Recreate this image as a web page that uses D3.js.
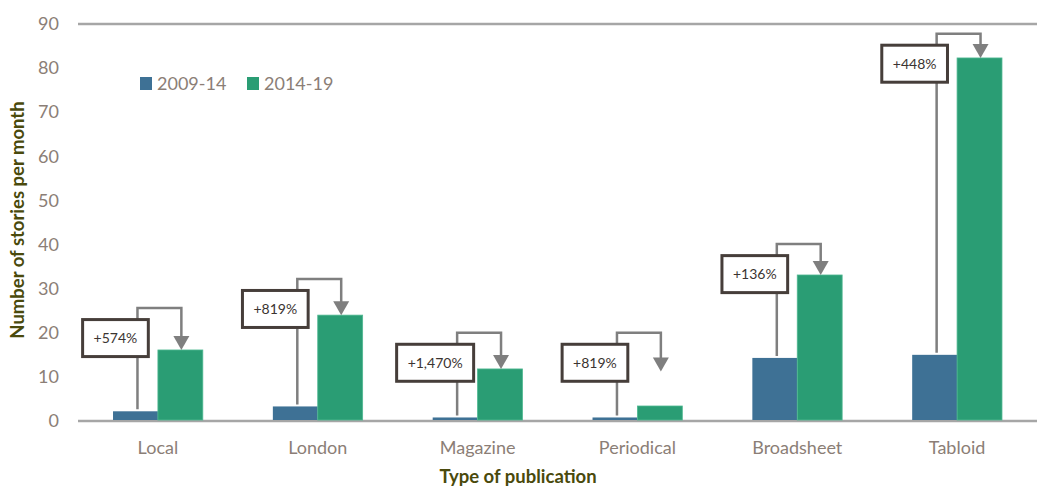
<!DOCTYPE html>
<html>
<head>
<meta charset="utf-8">
<script src="https://cdn.jsdelivr.net/npm/d3@7"></script>
<style>
  body { margin: 0; background: #fff; }
  svg { display: block; font-family: Lato, "Open Sans", sans-serif; }
</style>
</head>
<body>
<svg id="chart" width="1037" height="487"></svg>
<script>
// data
var categories = ["Local", "London", "Magazine", "Periodical", "Broadsheet", "Tabloid"];
var seriesNames = ["2009-14", "2014-19"];
var early = [2.2, 3.3, 0.8, 0.8, 14.3, 15.0];
var late = [16.1, 24.0, 11.8, 3.4, 33.1, 82.3];
var pctLabels = ["+574%", "+819%", "+1,470%", "+819%", "+136%", "+448%"];
// level of the bracket and where each arrow stops, in chart units
var bracketTop = [25.6, 32.2, 20.0, 20.0, 40.1, 87.8];
var arrowEnd = [16.1, 24.0, 11.8, 11.2, 33.1, 82.3];
var yTicks = [0, 10, 20, 30, 40, 50, 60, 70, 80, 90];

var colors = { "2009-14": "#3e7195", "2014-19": "#2a9d74" };
var textGrey = "#8b7e76";
var titleColor = "#4a4a0c";

var svg = d3.select("#chart");
var margin = { left: 78, right: 0, top: 24, bottom: 66 };
var width = 1037 - margin.left - margin.right;
var height = 487 - margin.top - margin.bottom;

var g = svg.append("g").attr("transform", "translate(" + margin.left + "," + margin.top + ")");

var x = d3.scaleBand().domain(categories).range([0, width]);
var x1 = d3.scaleBand().domain(seriesNames).range([0, x.bandwidth()]).paddingOuter(0.78);
var y = d3.scaleLinear().domain([0, 90]).range([height, 0]);

var rows = categories.map(function (c, i) {
    return { cat: c, i: i, values: [{ s: "2009-14", v: early[i] }, { s: "2014-19", v: late[i] }] };
});

// top rule and baseline
[0, 90].forEach(function (v) {
    g.append("line")
        .attr("x1", 0).attr("x2", width)
        .attr("y1", y(v)).attr("y2", y(v))
        .attr("stroke", "#a6a6a6").attr("stroke-width", 2.5);
});

// y axis labels
var yAxis = g.append("g")
    .call(d3.axisLeft(y).tickValues(yTicks).tickSize(0).tickPadding(19));
yAxis.select(".domain").remove();
yAxis.selectAll("text")
    .attr("fill", textGrey).style("font-size", "18px").style("font-family", "Lato, sans-serif");

// x axis labels
var xAxis = g.append("g").attr("transform", "translate(0," + height + ")")
    .call(d3.axisBottom(x).tickSize(0).tickPadding(20));
xAxis.select(".domain").remove();
xAxis.selectAll("text")
    .attr("fill", textGrey).style("font-size", "18px").style("font-family", "Lato, sans-serif");

// bars
var groups = g.selectAll(".grp").data(rows).enter().append("g")
    .attr("transform", function (d) { return "translate(" + x(d.cat) + ",0)"; });
groups.selectAll("rect").data(function (d) { return d.values; }).enter().append("rect")
    .attr("x", function (d) { return x1(d.s); })
    .attr("width", x1.bandwidth())
    .attr("y", function (d) { return y(d.v); })
    .attr("height", function (d) { return y(0) - y(d.v) - 1; })
    .attr("fill", function (d) { return colors[d.s]; })
    .attr("stroke", function (d) { return d.s == "2014-19" ? "#4fb891" : "none"; })
    .attr("stroke-width", 0.8);

// change brackets
var arrowColor = "#7f7f7f";
rows.forEach(function (d) {
    var i = d.i;
    var lx = x(d.cat) + x1("2009-14") + x1.bandwidth() / 2 + 2;
    var ax = x(d.cat) + x1("2014-19") + x1.bandwidth() / 2 + 1;
    var yb = y(early[i]) - 2;
    var yt = y(bracketTop[i]);
    var ye = y(arrowEnd[i]);
    var head = 14;

    g.append("path")
        .attr("d", "M" + lx + "," + yb + "V" + yt + "H" + ax + "V" + (ye - head + 1))
        .attr("fill", "none").attr("stroke", arrowColor).attr("stroke-width", 2.5);
    g.append("path")
        .attr("d", "M" + (ax - 8) + "," + (ye - head) + "L" + (ax + 8) + "," + (ye - head) + "L" + ax + "," + ye + "Z")
        .attr("fill", arrowColor);

    var box = g.append("g").attr("transform", "translate(" + (lx - 22) + "," + (yt + 30) + ")");
    var rect = box.append("rect").attr("fill", "#fff").attr("stroke", "#463e3a").attr("stroke-width", 3);
    var t = box.append("text")
        .attr("text-anchor", "middle").attr("dy", "0.35em")
        .attr("fill", "#3b3431").style("font-size", "14px")
        .text(pctLabels[i]);
    var w = t.node().getComputedTextLength() + 22;
    rect.attr("x", -w / 2).attr("y", -18.5).attr("width", w).attr("height", 37);
});

// legend
var legend = svg.append("g").attr("transform", "translate(140,77)");
var legX = [0, 107];
seriesNames.forEach(function (s, k) {
    legend.append("rect").attr("x", legX[k]).attr("y", 0).attr("width", 12).attr("height", 13).attr("fill", colors[s]);
    legend.append("text").attr("x", legX[k] + 17).attr("y", 13)
        .attr("fill", textGrey).style("font-size", "18px").text(s);
});

// axis titles
svg.append("text")
    .attr("transform", "translate(24,220) rotate(-90)")
    .attr("text-anchor", "middle")
    .attr("fill", titleColor).style("font-size", "18.5px").style("font-weight", "bold")
    .text("Number of stories per month");
svg.append("text")
    .attr("x", 518).attr("y", 483)
    .attr("text-anchor", "middle")
    .attr("fill", titleColor).style("font-size", "18.5px").style("font-weight", "bold")
    .text("Type of publication");
</script>
</body>
</html>
